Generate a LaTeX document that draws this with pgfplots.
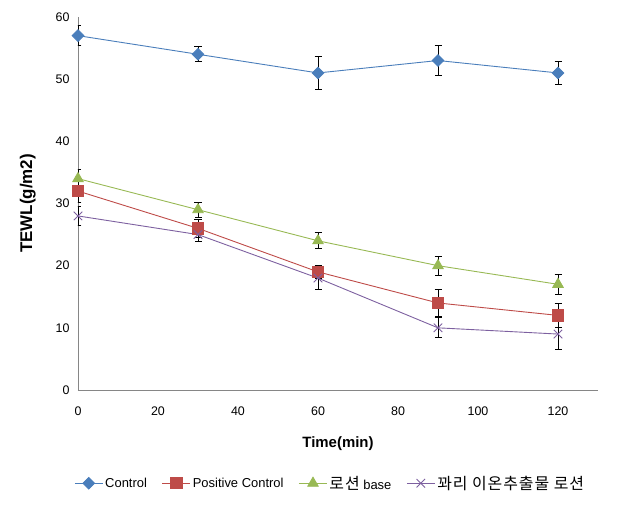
\documentclass[border=0pt]{standalone}
\usepackage{fontspec}
\setmainfont{Liberation Sans}
\newfontfamily\kr[LetterSpace=6]{Noto Sans CJK KR}
\usepackage{pgfplots}
\pgfplotsset{compat=1.18}
\definecolor{cBlue}{HTML}{4A7EBB}
\definecolor{cRed}{HTML}{BE4B48}
\definecolor{cGreen}{HTML}{98B954}
\definecolor{cPurple}{HTML}{7D60A0}
\definecolor{cAxis}{HTML}{868686}
\pgfplotsset{
  myerr/.style={error bars/.cd, y dir=both, y explicit,
    error bar style={black, line width=0.9pt},
    error mark options={black, line width=0.9pt, rotate=90, mark size=3.5bp}},
}
\begin{document}
\begin{tikzpicture}
\begin{axis}[
  scale only axis, width=520bp, height=373bp,
  xmin=0, xmax=130, ymin=0, ymax=60,
  xtick={0,20,...,120}, ytick={0,10,...,60},
  axis lines*=left, axis line style={draw=cAxis, -},
  major tick length=0pt,
  /pgf/number format/assume math mode=true,
  tick label style={font=\fontsize{12.5}{14}\selectfont},
  xticklabel style={yshift=-13bp},
  yticklabel style={xshift=-5bp},
  xlabel={Time(min)}, ylabel={TEWL(g/m2)},
  xlabel style={font=\fontsize{15}{18}\selectfont\bfseries, yshift=-14bp},
  ylabel style={font=\fontsize{17}{20}\selectfont\bfseries, yshift=13bp},
  legend columns=4,
  legend style={draw=none, at={(0.485,-0.25)}, anchor=center,
    font=\fontsize{13}{15}\selectfont,
    /tikz/every even column/.append style={column sep=13bp}},
  legend image code/.code={\draw[mark repeat=2, mark phase=2, #1] plot coordinates {(0bp,0bp) (14bp,0bp) (28bp,0bp)};},
  every axis plot/.append style={line width=0.9pt},
]
\addplot[cBlue, mark=square*, mark size=4.1bp, mark options={fill=cBlue, draw=cBlue, rotate=45}, myerr]
  coordinates {(0,57) +- (0,1.6) (30,54) +- (0,1.2) (60,51) +- (0,2.6) (90,53) +- (0,2.4) (120,51) +- (0,1.8)};
\addlegendentry{Control}
\addplot[cRed, mark=square*, mark size=5.6bp, mark options={fill=cRed, draw=cRed}, myerr]
  coordinates {(0,32) +- (0,1.8) (30,26) +- (0,1.5) (60,19) +- (0,1.0) (90,14) +- (0,2.2) (120,12) +- (0,2.0)};
\addlegendentry{Positive Control}
\addplot[cGreen, mark=triangle*, mark size=6bp, mark options={fill=cGreen, draw=cGreen}, myerr]
  coordinates {(0,34) +- (0,1.5) (30,29) +- (0,1.2) (60,24) +- (0,1.3) (90,20) +- (0,1.5) (120,17) +- (0,1.6)};
\addlegendentry{{\fontsize{16}{18}\selectfont\kr 로션} base}
\addplot[cPurple, mark=x, mark size=6bp, mark options={draw=cPurple}, myerr]
  coordinates {(0,28) +- (0,1.5) (30,25) +- (0,1.1) (60,18) +- (0,1.8) (90,10) +- (0,1.6) (120,9) +- (0,2.4)};
\addlegendentry{{\fontsize{16}{18}\selectfont\kr 꽈리 이온추출물 로션}}
\end{axis}
\pgfresetboundingbox
\path (current axis.south west) ++(-78bp,-120bp) rectangle ++(631bp,510bp);
\end{tikzpicture}
\end{document}
